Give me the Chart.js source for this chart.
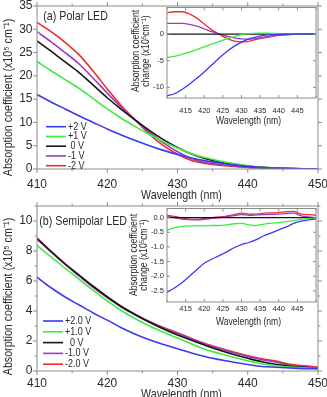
<!DOCTYPE html>
<html>
<head>
<meta charset="utf-8">
<script src="https://cdn.jsdelivr.net/npm/chart.js@4"></script>
<style>
  html, body { margin: 0; padding: 0; background: #fff; overflow: hidden; width: 327px; height: 397px; }
  body { position: relative; }
  canvas { position: absolute; }
</style>
</head>
<body>
<canvas id="polarMain" width="345" height="215" style="left:0;top:-10px"></canvas>
<canvas id="semiMain" width="345" height="230" style="left:0;top:190px"></canvas>
<canvas id="polarInset" width="225" height="130" style="left:120px;top:0"></canvas>
<canvas id="semiInset" width="225" height="135" style="left:120px;top:195px"></canvas>
<script>
// wavelength grid (nm)
const wavelengths = [410, 412, 414, 416, 418, 420, 422, 424, 426, 428, 430, 432, 434, 436, 438, 440, 442, 444, 446, 448, 450];

// (a) Polar LED, absorption coefficient (x10^5 cm^-1)
const polarLabels = ['+2 V', '+1 V', ' 0 V', '-1 V', '-2 V'];
const polarP2 = [16.0, 14.4, 12.9, 11.4, 10.0, 8.6, 7.3, 6.1, 5.0, 4.0, 3.1, 2.35, 1.75, 1.3, 0.92, 0.6, 0.38, 0.22, 0.12, 0.06, 0.03];
const polarP1 = [23.1, 21.1, 19.2, 17.3, 15.1, 12.9, 10.9, 9.1, 7.4, 5.85, 4.5, 3.3, 2.4, 1.7, 1.15, 0.7, 0.4, 0.22, 0.1, 0.05, 0.03];
const polar0 = [27.5, 25.3, 23.0, 20.7, 18.0, 15.3, 12.8, 10.5, 8.3, 6.3, 4.6, 3.2, 2.2, 1.5, 1.0, 0.6, 0.35, 0.2, 0.1, 0.05, 0.03];
const polarM1 = [29.5, 27.3, 25.0, 22.55, 19.5, 16.3, 13.25, 10.5, 7.9, 5.6, 3.7, 2.25, 1.4, 0.95, 0.65, 0.4, 0.25, 0.15, 0.08, 0.05, 0.03];
const polarM2 = [31.5, 29.5, 27.2, 24.5, 21.0, 17.2, 13.6, 10.5, 7.5, 5.0, 3.15, 1.85, 1.2, 0.8, 0.55, 0.35, 0.23, 0.15, 0.08, 0.05, 0.03];

// (a) inset: change relative to 0 V
const polarDiffP2 = [-11.6, -11.2, -10.4, -9.4, -8.3, -7.1, -5.8, -4.5, -3.3, -2.3, -1.5, -0.9, -0.5, -0.25, -0.1, -0.03, 0, 0, 0, 0, 0];
const polarDiffP1 = [-4.4, -4.2, -3.8, -3.4, -2.9, -2.4, -1.9, -1.4, -0.9, -0.45, -0.1, 0.1, 0.2, 0.2, 0.15, 0.1, 0.05, 0.02, 0, 0, 0];
const polarDiff0 = [0, 0, 0, 0, 0, 0, 0, 0, 0, 0, 0, 0, 0, 0, 0, 0, 0, 0, 0, 0, 0];
const polarDiffM1 = [2.0, 2.0, 2.0, 1.85, 1.5, 1.0, 0.45, 0, -0.4, -0.7, -0.9, -0.95, -0.8, -0.55, -0.35, -0.2, -0.1, -0.05, -0.02, 0, 0];
const polarDiffM2 = [4.0, 4.2, 4.2, 3.8, 3.0, 1.9, 0.8, 0, -0.8, -1.3, -1.45, -1.35, -1.0, -0.7, -0.45, -0.25, -0.12, -0.05, -0.02, 0, 0];

// (b) Semipolar LED
const semiLabels = ['+2.0 V', '+1.0 V', '  0 V', '-1.0 V', '-2.0 V'];
const semiP2 = [6.25, 5.55, 4.93, 4.4, 3.87, 3.39, 2.88, 2.45, 2.08, 1.77, 1.48, 1.2, 0.95, 0.76, 0.58, 0.43, 0.3, 0.25, 0.2, 0.16, 0.14];
const semiP1 = [8.37, 7.6, 6.85, 6.11, 5.37, 4.67, 4.03, 3.48, 3.0, 2.59, 2.2, 1.8, 1.43, 1.16, 0.91, 0.68, 0.48, 0.35, 0.26, 0.21, 0.17];
const semi0 = [8.8, 7.95, 7.15, 6.4, 5.65, 4.95, 4.3, 3.75, 3.25, 2.8, 2.4, 2.05, 1.7, 1.38, 1.1, 0.85, 0.62, 0.45, 0.32, 0.24, 0.18];
const semiM1 = [8.85, 7.95, 7.1, 6.33, 5.57, 4.89, 4.27, 3.75, 3.28, 2.87, 2.5, 2.13, 1.79, 1.48, 1.21, 0.97, 0.76, 0.6, 0.38, 0.26, 0.18];
const semiM2 = [8.88, 7.99, 7.13, 6.35, 5.59, 4.91, 4.3, 3.77, 3.3, 2.9, 2.55, 2.17, 1.82, 1.53, 1.26, 1.02, 0.82, 0.66, 0.44, 0.34, 0.26];

// (b) inset
const semiDiffP2 = [-2.55, -2.4, -2.22, -2.0, -1.78, -1.56, -1.42, -1.3, -1.17, -1.03, -0.92, -0.85, -0.75, -0.62, -0.52, -0.42, -0.32, -0.2, -0.12, -0.08, -0.04];
const semiDiffP1 = [-0.43, -0.35, -0.3, -0.29, -0.28, -0.28, -0.27, -0.27, -0.25, -0.21, -0.2, -0.25, -0.27, -0.22, -0.19, -0.17, -0.14, -0.1, -0.06, -0.03, -0.01];
const semiDiff0 = [0, 0, 0, 0, 0, 0, 0, 0, 0, 0, 0, 0, 0, 0, 0, 0, 0, 0, 0, 0, 0];
const semiDiffM1 = [0.05, 0.0, -0.05, -0.07, -0.08, -0.06, -0.03, 0.0, 0.03, 0.07, 0.1, 0.08, 0.09, 0.1, 0.11, 0.12, 0.14, 0.15, 0.06, 0.02, 0.0];
const semiDiffM2 = [0.08, 0.04, -0.02, -0.05, -0.06, -0.04, 0.0, 0.02, 0.05, 0.1, 0.15, 0.12, 0.12, 0.15, 0.16, 0.17, 0.2, 0.21, 0.12, 0.1, 0.08];

const colors = ['#3a3aee', '#3cec3c', '#151515', '#9a3cc2', '#f02c2c'];
const axisColor = '#8c8c8c';
const textColor = '#2a2a2a';
const plainFont = "'Liberation Sans', Arial, sans-serif";
const squeeze = 0.82; // the figure uses a narrow sans face

const yTitleText = 'Absorption coefficient (x10\u2075 cm\u207B\u00B9)';
const insetTitleText = ['Absorption coefficient', 'change (x10\u2075cm\u207B\u00B9)'];

// narrow text: ordinary face squeezed with fillText's maxWidth
function drawNarrow(ctx, text, x, y, size, align, rotated) {
  ctx.save();
  ctx.font = size + 'px ' + plainFont;
  ctx.fillStyle = textColor;
  ctx.textAlign = align;
  ctx.textBaseline = 'middle';
  ctx.translate(x, y);
  if (rotated) ctx.rotate(-Math.PI / 2);
  ctx.fillText(text, 0, 0, ctx.measureText(text).width * squeeze);
  ctx.restore();
}

// box around the plot area, with ticks on all four sides
function framePlugin(dir, len) {
  return {
    id: 'frame',
    afterDatasetsDraw(chart) {
      const { ctx, chartArea: a, scales } = chart;
      const s = dir === 'in' ? -1 : 1;
      ctx.save();
      ctx.strokeStyle = axisColor;
      ctx.lineWidth = 1;
      ctx.strokeRect(a.left, a.top, a.right - a.left, a.bottom - a.top);
      ctx.beginPath();
      scales.x.ticks.forEach(t => {
        const p = scales.x.getPixelForValue(t.value);
        const l = t.label === '' ? len * 0.6 : len;
        ctx.moveTo(p, a.bottom); ctx.lineTo(p, a.bottom + s * l);
        ctx.moveTo(p, a.top); ctx.lineTo(p, a.top - s * l);
      });
      scales.y.ticks.forEach(t => {
        const p = scales.y.getPixelForValue(t.value);
        const l = t.label === '' ? len * 0.6 : len;
        ctx.moveTo(a.left, p); ctx.lineTo(a.left - s * l, p);
        ctx.moveTo(a.right, p); ctx.lineTo(a.right + s * l, p);
      });
      ctx.stroke();
      ctx.restore();
    }
  };
}

// axis titles, panel caption and the legend inside the plot
function notesPlugin(texts, legend) {
  return {
    id: 'notes',
    afterDraw(chart) {
      const ctx = chart.ctx;
      texts.forEach(t => drawNarrow(ctx, t.text, t.x, t.y, t.size, t.align || 'center', t.rotated));
      if (!legend) return;
      chart.data.datasets.forEach((ds, i) => {
        const y = legend.y + i * legend.gap;
        ctx.save();
        ctx.strokeStyle = ds.borderColor;
        ctx.lineWidth = 1.6;
        ctx.beginPath();
        ctx.moveTo(legend.x, y);
        ctx.lineTo(legend.x + 20, y);
        ctx.stroke();
        ctx.restore();
        drawNarrow(ctx, ds.label, legend.x + 22, y, 11, 'left', false);
      });
    }
  };
}

function makeChart(id, cfg) {
  const datasets = cfg.series.map((s, i) => ({
    label: cfg.labels[i],
    data: wavelengths.map((w, k) => ({ x: w, y: s[k] })),
    borderColor: colors[i],
    borderWidth: cfg.lineWidth,
    pointRadius: 0,
    fill: false,
    cubicInterpolationMode: 'monotone'
  }));
  return new Chart(document.getElementById(id), {
    type: 'line',
    data: { datasets },
    options: {
      responsive: false,
      animation: false,
      events: [],
      layout: { padding: { left: 0, top: cfg.box.top, right: cfg.box.right, bottom: 0 } },
      plugins: { legend: { display: false }, tooltip: { enabled: false } },
      scales: {
        x: {
          type: 'linear',
          min: 410, max: 450,
          afterFit: s => { s.height = cfg.box.bottom; },
          grid: { display: false, drawTicks: false },
          border: { display: false },
          ticks: {
            stepSize: 5, autoSkip: false, maxRotation: 0, includeBounds: false,
            padding: cfg.xTickPad, color: textColor, font: cfg.tickFont,
            callback: cfg.xLabel
          }
        },
        y: {
          min: cfg.y.min, max: cfg.y.max,
          afterFit: s => { s.width = cfg.box.left; },
          grid: { display: false, drawTicks: false },
          border: { display: false },
          ticks: {
            stepSize: cfg.y.step, autoSkip: false, includeBounds: false,
            padding: cfg.yTickPad, color: textColor, font: cfg.tickFont,
            callback: cfg.yLabel
          }
        }
      }
    },
    plugins: [framePlugin(cfg.tickDir, cfg.tickLen), notesPlugin(cfg.texts, cfg.legend)]
  });
}

const mainTick = { family: plainFont, size: 12 };
const insetTick = { family: plainFont, size: 7.5 };

makeChart('polarMain', {
  series: [polarP2, polarP1, polar0, polarM1, polarM2],
  labels: polarLabels,
  lineWidth: 1.6,
  box: { left: 37, top: 16, right: 27, bottom: 36 },
  y: { min: 0, max: 35, step: 5 },
  xLabel: v => (v % 10 === 0 ? v : ''),
  yLabel: v => v,
  xTickPad: 8, yTickPad: 4.5,
  tickFont: mainTick,
  tickDir: 'out', tickLen: 4,
  texts: [
    { text: 'Wavelength (nm)', x: 181.5, y: 205, size: 13 },
    { text: yTitleText, x: 8.5, y: 107.5, size: 13, rotated: true },
    { text: '(a) Polar LED', x: 43.3, y: 26, size: 13, align: 'left' }
  ],
  legend: { x: 46, y: 136.7, gap: 9.75 }
});

makeChart('semiMain', {
  series: [semiP2, semiP1, semi0, semiM1, semiM2],
  labels: semiLabels,
  lineWidth: 1.6,
  box: { left: 37, top: 16, right: 27, bottom: 49 },
  y: { min: 0, max: 11, step: 1 },
  xLabel: v => (v % 10 === 0 ? v : ''),
  yLabel: v => (v % 2 === 0 ? v : ''),
  xTickPad: 5, yTickPad: 4.5,
  tickFont: mainTick,
  tickDir: 'out', tickLen: 4,
  texts: [
    { text: 'Wavelength (nm)', x: 181.5, y: 204, size: 13 },
    { text: yTitleText, x: 8.5, y: 106.5, size: 13, rotated: true },
    { text: '(b) Semipolar LED', x: 39.3, y: 31, size: 13, align: 'left' }
  ],
  legend: { x: 43, y: 131, gap: 10.8 }
});

makeChart('polarInset', {
  series: [polarDiffP2, polarDiffP1, polarDiff0, polarDiffM1, polarDiffM2],
  labels: polarLabels,
  lineWidth: 1.3,
  box: { left: 47, top: 7, right: 29, bottom: 32 },
  y: { min: -12, max: 5, step: 5 },
  xLabel: v => (v > 410 && v < 450 ? v : ''),
  yLabel: v => (v > 0 ? '' : v),
  xTickPad: 8.5, yTickPad: 3,
  tickFont: insetTick,
  tickDir: 'in', tickLen: 3,
  texts: [
    { text: 'Wavelength (nm)', x: 128.5, y: 121, size: 10.5 },
    { text: insetTitleText[0], x: 16.5, y: 51, size: 10.5, rotated: true },
    { text: insetTitleText[1], x: 26.5, y: 51, size: 10.5, rotated: true }
  ]
});

makeChart('semiInset', {
  series: [semiDiffP2, semiDiffP1, semiDiff0, semiDiffM1, semiDiffM2],
  labels: semiLabels,
  lineWidth: 1.3,
  box: { left: 47, top: 13.5, right: 29, bottom: 28 },
  y: { min: -2.88, max: 0.31, step: 0.5 },
  xLabel: v => (v > 410 && v < 450 ? v : ''),
  yLabel: v => v.toFixed(1),
  xTickPad: 2.5, yTickPad: 3,
  tickFont: insetTick,
  tickDir: 'in', tickLen: 3,
  texts: [
    { text: 'Wavelength (nm)', x: 128.5, y: 127.3, size: 10.5 },
    { text: insetTitleText[0], x: 14.5, y: 60, size: 10.5, rotated: true },
    { text: insetTitleText[1], x: 24.5, y: 60, size: 10.5, rotated: true }
  ]
});
</script>
</body>
</html>
